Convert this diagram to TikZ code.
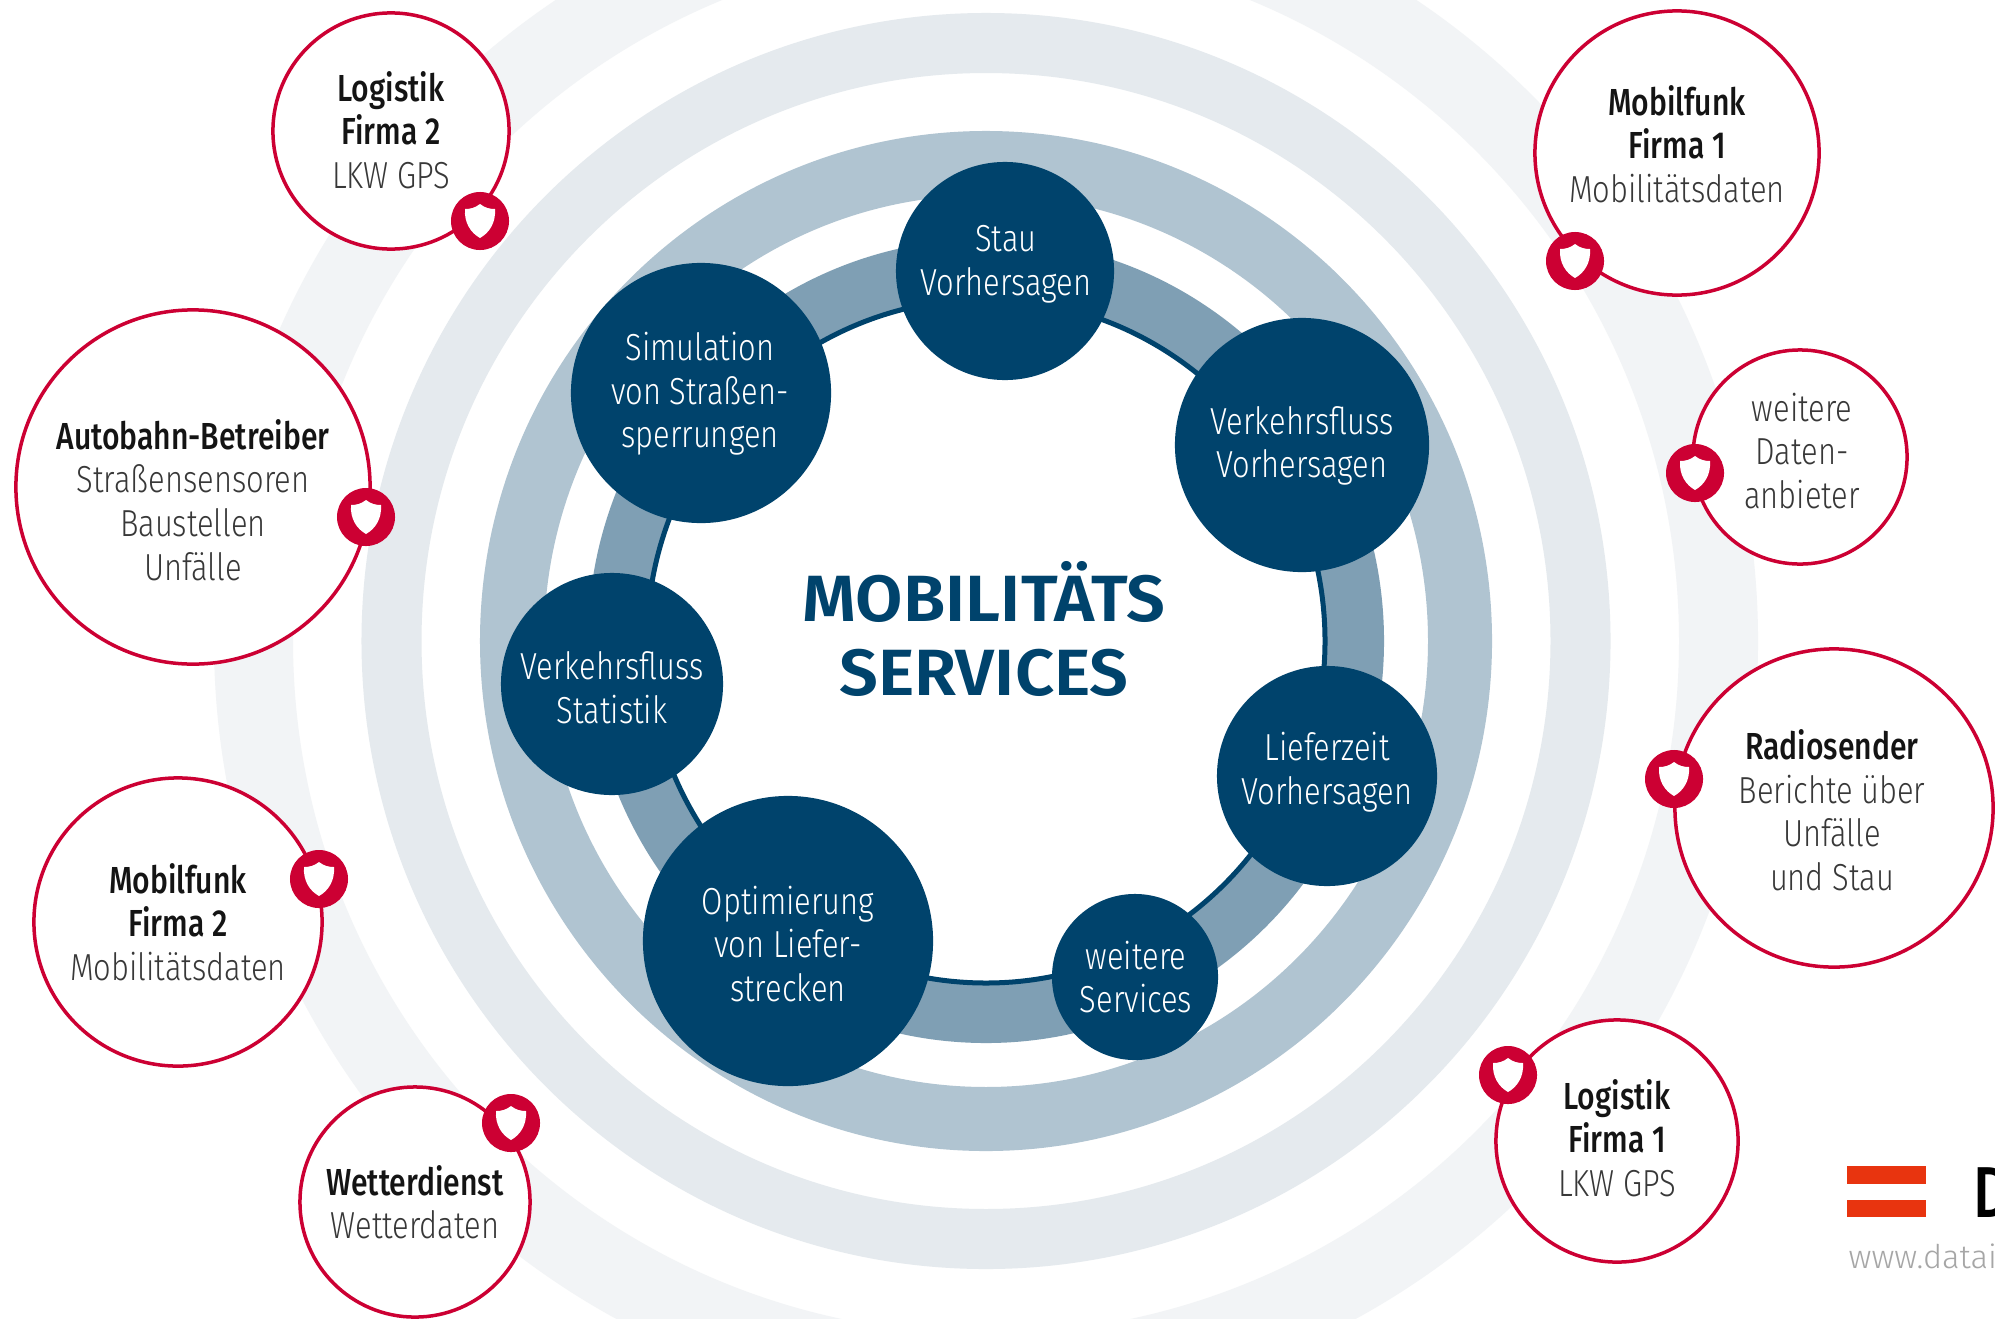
\documentclass[tikz,border=0pt]{standalone}
\usepackage{fontspec}
\setmainfont{Fira Sans Light}[FakeStretch=0.82,BoldFont=Fira Sans Medium,BoldFeatures={FakeStretch=0.8}]
\newfontfamily\titlefont{Fira Sans SemiBold}[FakeStretch=1.05]
\newfontfamily\urlfont{Fira Sans Light}
\definecolor{svcblue}{HTML}{00436C}
\definecolor{ringdark}{HTML}{7F9FB4}
\definecolor{ringmid}{HTML}{B0C4D1}
\definecolor{ringgrey}{HTML}{E5EAEE}
\definecolor{ringpale}{HTML}{F2F4F6}
\definecolor{srcred}{HTML}{CC0033}
\definecolor{logored}{HTML}{E8340F}
\newcommand{\shield}[1]{\fill[white,shift={(#1)}] (0,-17) .. controls (5,-13) and (10,-12) .. (15,-12) .. controls (16,2) and (9,12) .. (0,17) .. controls (-9,12) and (-16,2) .. (-15,-12) .. controls (-10,-12) and (-5,-13) .. (0,-17) -- cycle;}
\newcommand{\srcname}[1]{\textcolor{black!92}{\textbf{#1}}}
\tikzset{
    service/.style = {circle,fill=svcblue,inner sep=0pt},
    servicetext/.style = {align=center,text=white,font=\fontsize{10.7}{12.4}\selectfont},
    source/.style = {circle,draw=srcred,line width=0.035cm,fill=white,inner sep=0pt},
    sourcetext/.style = {align=center,text=black!78,font=\fontsize{10.7}{12.4}\selectfont},
    badge/.style = {circle,fill=srcred,minimum size=0.58cm,inner sep=0pt},
}
\begin{document}
\begin{tikzpicture}[x=0.01cm,y=-0.01cm]
    \clip (0,0) rectangle (1995,1318);
    \fill[white] (0,0) rectangle (1995,1318);
    \coordinate (mid) at (986,641);

    % rings
    \draw[ringpale,line width=0.79cm] (mid) circle (732.5);
    \draw[ringgrey,line width=0.60cm] (mid) ellipse [x radius=594.5,y radius=598];
    \draw[ringmid,line width=0.64cm] (mid) ellipse [x radius=474,y radius=478];
    \draw[ringdark,line width=0.60cm] (mid) ellipse [x radius=368,y radius=372];
    \draw[svcblue,line width=0.05cm] (mid) ellipse [x radius=339,y radius=342];

    \node[font=\titlefont\fontsize{18.6}{21}\selectfont,text=svcblue,align=center] (title) at (984,629) {MOBILITÄTS\\SERVICES};

    % services
    \node[service,minimum size=2.18cm] (stau) at (1005,271) {};
    \node[service,minimum size=2.60cm] (simu) at (701,393) {};
    \node[service,minimum size=2.54cm] (vfluss) at (1302,445) {};
    \node[service,minimum size=2.22cm] (stat) at (612,684) {};
    \node[service,minimum size=2.20cm] (liefer) at (1327,776) {};
    \node[service,minimum size=2.90cm] (opti) at (788,941) {};
    \node[service,minimum size=1.66cm] (mehr) at (1135,977) {};

    \node[servicetext] (stautext) at (1006,264) {Stau\\Vorhersagen};
    \node[servicetext] (simutext) at (700,394) {Simulation\\von Straßen-\\sperrungen};
    \node[servicetext] (vflusstext) at (1302,446) {Verkehrsfluss\\Vorhersagen};
    \node[servicetext] (stattext) at (612,688) {Verkehrsfluss\\Statistik};
    \node[servicetext] (liefertext) at (1327,772) {Lieferzeit\\Vorhersagen};
    \node[servicetext] (optitext) at (788,944) {Optimierung\\von Liefer-\\strecken};
    \node[servicetext] (mehrtext) at (1136,977) {weitere\\Services};

    % sources
    \node[source,minimum size=2.36cm] (log2) at (391,131) {};
    \node[source,minimum size=2.84cm] (mob1) at (1677,153) {};
    \node[source,minimum size=2.14cm] (daten) at (1800,457) {};
    \node[source,minimum size=3.54cm] (auto) at (193,487) {};
    \node[source,minimum size=3.18cm] (radio) at (1834,808) {};
    \node[source,minimum size=2.88cm] (mob2) at (178,922) {};
    \node[source,minimum size=2.42cm] (log1) at (1617,1141) {};
    \node[source,minimum size=2.30cm] (wetter) at (415,1202) {};

    \node[sourcetext] (log2text) at (391,130) {\srcname{Logistik}\\\srcname{Firma 2}\\LKW GPS};
    \node[sourcetext] (mob1text) at (1677,144) {\srcname{Mobilfunk}\\\srcname{Firma 1}\\Mobilitätsdaten};
    \node[sourcetext] (datentext) at (1802,451) {weitere\\Daten-\\anbieter};
    \node[sourcetext] (autotext) at (193,500) {\srcname{Autobahn-Betreiber}\\Straßensensoren\\Baustellen\\Unfälle};
    \node[sourcetext] (radiotext) at (1832,810) {\srcname{Radiosender}\\Berichte über\\Unfälle\\und Stau};
    \node[sourcetext] (mob2text) at (178,922) {\srcname{Mobilfunk}\\\srcname{Firma 2}\\Mobilitätsdaten};
    \node[sourcetext] (log1text) at (1617,1138) {\srcname{Logistik}\\\srcname{Firma 1}\\LKW GPS};
    \node[sourcetext] (wettertext) at (415,1202) {\srcname{Wetterdienst}\\Wetterdaten};

    % badges
    \node[badge] (blog2) at (480,221) {};
    \node[badge] (bmob1) at (1575,261) {};
    \node[badge] (bdaten) at (1695,473) {};
    \node[badge] (bauto) at (366,517) {};
    \node[badge] (bradio) at (1674,779) {};
    \node[badge] (bmob2) at (319,879) {};
    \node[badge] (blog1) at (1508,1075) {};
    \node[badge] (bwetter) at (511,1123) {};
    \shield{blog2}
    \shield{bmob1}
    \shield{bdaten}
    \shield{bauto}
    \shield{bradio}
    \shield{bmob2}
    \shield{blog1}
    \shield{bwetter}

    % logo, cut off at the edge
    \fill[logored] (1847,1166) rectangle (1926,1184);
    \fill[logored] (1847,1200) rectangle (1926,1217);
    \node[anchor=base west,inner sep=0pt,font=\bfseries\fontsize{20.5}{24}\selectfont] (logoname) at (1973,1217) {D};
    \node[anchor=base west,inner sep=0pt,text=black!35,font=\urlfont\fontsize{9.3}{12}\selectfont] (logourl) at (1848,1268) {www.datai};
\end{tikzpicture}
\end{document}
